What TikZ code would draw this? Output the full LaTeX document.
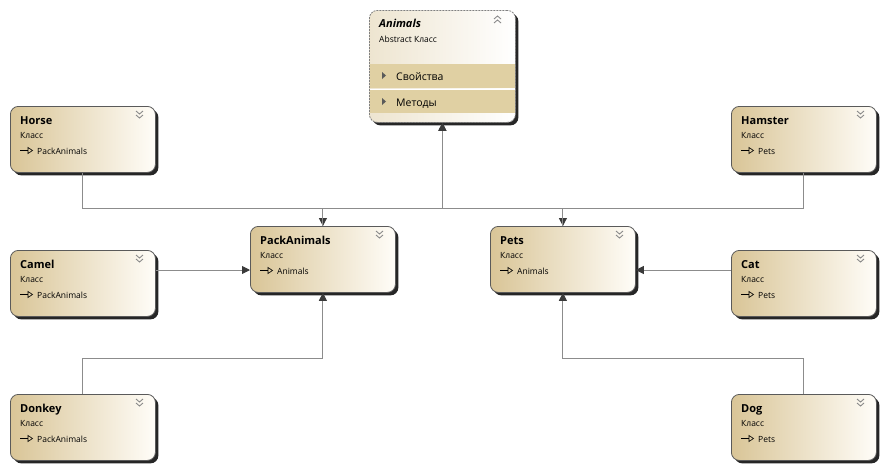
\documentclass[tikz,border=0pt]{standalone}
\usepackage{fontspec}
\setmainfont{Open Sans}
\usetikzlibrary{arrows.meta,shadows,calc}

\definecolor{boxtan}{HTML}{D9C597}
\definecolor{boxwhite}{HTML}{FFFDF8}
\definecolor{bandtan}{HTML}{E0D0A3}
\definecolor{frame}{HTML}{5A5A5A}
\definecolor{wire}{HTML}{8C8C8C}
\definecolor{tip}{HTML}{3A3A3A}
\definecolor{chev}{HTML}{8A8A8A}

\tikzset{
  classbox/.style={draw=frame, line width=0.8pt, rounded corners=8pt,
    left color=boxtan, right color=boxwhite,
    drop shadow={shadow xshift=3pt, shadow yshift=-3pt, opacity=0.85, fill=black},
    minimum width=145pt, minimum height=66pt, anchor=north west, inner sep=0pt},
  abstractbox/.style={classbox, draw=gray, dash pattern=on 2pt off 1pt,
    left color=boxtan!45, right color=white, minimum width=146pt, minimum height=112pt},
  titletext/.style={anchor=base west, inner sep=0pt, font=\fontsize{11}{13}\selectfont\bfseries},
  kindtext/.style={anchor=base west, inner sep=0pt, font=\fontsize{8.5}{10}\selectfont},
  bandtext/.style={anchor=base west, inner sep=0pt, font=\fontsize{10.5}{12}\selectfont},
  chevline/.style={draw=chev, line width=0.9pt},
  inh/.style={draw=wire, line width=0.9pt,
    -{Triangle[length=8pt,width=8pt,fill=tip,color=tip]}},
  baseglyph/.style={draw=black, line width=0.6pt},
}

% one class box: name, left x, top y, title, parent
\newcommand\classbox[5]{%
  \node[classbox] (#1) at (#2,#3) {};
  \node[titletext] (#1-title) at (#2+10,#3+18) {#4};
  \node[kindtext] (#1-kind) at (#2+10,#3+32) {Класс};
  \node[kindtext] (#1-base) at (#2+27,#3+48) {#5};
  % small inheritance glyph before the parent name
  \draw[baseglyph] (#2+10,#3+44.5) -- (#2+18,#3+44.5);
  \draw[baseglyph] (#2+18,#3+41.5) -- (#2+18,#3+47.5) -- (#2+22.5,#3+44.5) -- cycle;
  % collapse chevrons
  \draw[chevline] (#2+126,#3+5) -- (#2+129.5,#3+8) -- (#2+133,#3+5);
  \draw[chevline] (#2+126,#3+9) -- (#2+129.5,#3+12) -- (#2+133,#3+9);
}

\begin{document}
\begin{tikzpicture}[x=1pt,y=-1pt]
\useasboundingbox (0,0) rectangle (883,469);

% abstract base class with its member bands
\node[abstractbox] (animals) at (369,10) {};
\fill[bandtan] (370,64) rectangle (515,88);
\fill[bandtan] (370,90) rectangle (515,113);
\draw[white, line width=1pt] (370,89) -- (515,89);
\node[titletext, font=\fontsize{11}{13}\selectfont\bfseries\itshape] (animals-title) at (379,27) {Animals};
\node[kindtext] (animals-kind) at (379,42) {Abstract Класс};
\node[bandtext] (animals-props) at (396,80) {Свойства};
\node[bandtext] (animals-meth) at (396,106) {Методы};
\fill[frame] (382,72) -- (382,79) -- (386,75.5) -- cycle;
\fill[frame] (382,98) -- (382,105) -- (386,101.5) -- cycle;
\draw[chevline] (494,19) -- (497.5,16) -- (501,19);
\draw[chevline] (494,23) -- (497.5,20) -- (501,23);

\classbox{horse}{10}{106}{Horse}{PackAnimals}
\classbox{hamster}{731}{106}{Hamster}{Pets}
\classbox{camel}{10}{250}{Camel}{PackAnimals}
\classbox{pack}{250}{226}{PackAnimals}{Animals}
\classbox{pets}{490}{226}{Pets}{Animals}
\classbox{cat}{731}{250}{Cat}{Pets}
\classbox{donkey}{10}{394}{Donkey}{PackAnimals}
\classbox{dog}{731}{394}{Dog}{Pets}

% connector rails
\coordinate (upper) at (0,208);
\coordinate (middle) at (0,270);
\coordinate (lower) at (0,358);

\draw[inh] (horse.south) |- (pack.north |- upper) -- (pack.north);
\draw[inh] (hamster.south) |- (pets.north |- upper) -- (pets.north);
\draw[inh] (pack.north) -- (pack.north |- upper) -| (animals.south);
\draw[inh] (pets.north) -- (pets.north |- upper) -| (animals.south);
\draw[inh] (camel.east |- middle) -- (pack.west |- middle);
\draw[inh] (cat.west |- middle) -- (pets.east |- middle);
\draw[inh] (donkey.north) |- (pack.south |- lower) -- (pack.south);
\draw[inh] (dog.north) |- (pets.south |- lower) -- (pets.south);
\end{tikzpicture}
\end{document}
